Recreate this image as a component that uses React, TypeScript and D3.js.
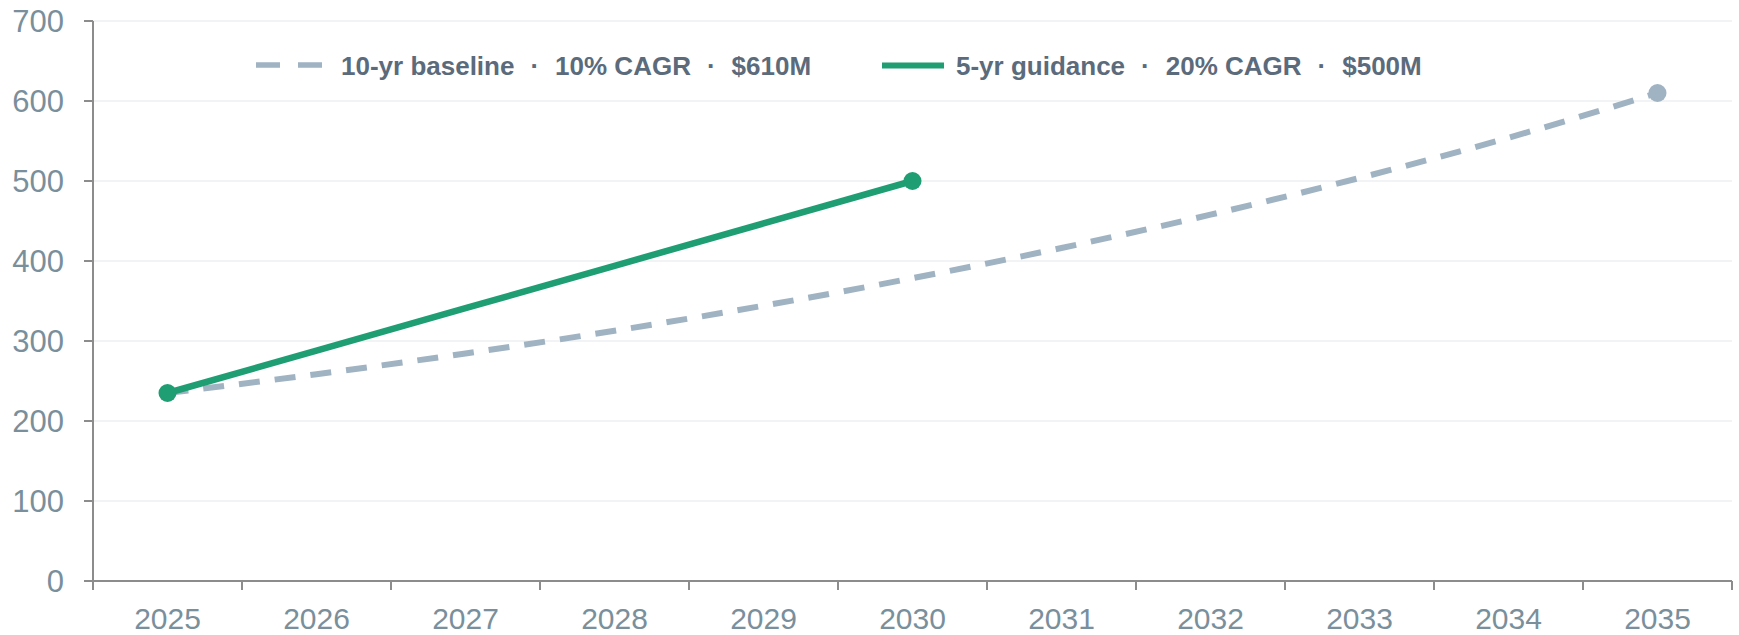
import React from "react";
import * as d3 from "d3";

const years = ["2025", "2026", "2027", "2028", "2029", "2030", "2031", "2032", "2033", "2034", "2035"];
const baselineValues = [235, 258.5, 284.4, 312.8, 344.1, 378.5, 416.3, 457.9, 503.8, 554.1, 610];
const guidanceYears = ["2025", "2026", "2027", "2028", "2029", "2030"];
const guidanceValues = [235, 288, 341, 394, 447, 500];
const yTicks = [0, 100, 200, 300, 400, 500, 600, 700];
const legendBaseline = ["10-yr baseline", "10% CAGR", "$610M"];
const legendGuidance = ["5-yr guidance", "20% CAGR", "$500M"];

const W = 1739;
const H = 635;
const M = { left: 93, right: 7, top: 21, bottom: 54 };

const GRAY = "#a0b3c3";
const GREEN = "#1f9e73";
const AXIS = "#8c8c8c";
const TICK_TEXT = "#7a8f9c";
const LEGEND_TEXT = "#5b6b7c";
const GRID = "#e4e8ec";
const FONT = "'Liberation Sans', Arial, Helvetica, sans-serif";

function LegendText({ x, y, parts }: { x: number; y: number; parts: string[] }) {
  const children: React.ReactNode[] = [];
  parts.forEach((p, i) => {
    if (i > 0) {
      children.push(
        <tspan key={"s" + i} dx={16}>
          ·
        </tspan>
      );
    }
    children.push(
      <tspan key={"p" + i} dx={i > 0 ? 16 : 0}>
        {p}
      </tspan>
    );
  });
  return (
    <text x={x} y={y} fontSize={26} fontWeight="bold" fill={LEGEND_TEXT}>
      {children}
    </text>
  );
}

export default function App() {
  const x = d3.scaleBand<string>().domain(years).range([M.left, W - M.right]).padding(0);
  const y = d3.scaleLinear().domain([0, 700]).range([H - M.bottom, M.top]);
  const cx = (yr: string) => (x(yr) as number) + x.bandwidth() / 2;

  const baseData = years.map((yr, i) => ({ yr, v: baselineValues[i] }));
  const guideData = guidanceYears.map((yr, i) => ({ yr, v: guidanceValues[i] }));

  const baseLine = d3
    .line<{ yr: string; v: number }>()
    .x((d) => cx(d.yr))
    .y((d) => y(d.v))
    .curve(d3.curveMonotoneX);
  const guideLine = d3
    .line<{ yr: string; v: number }>()
    .x((d) => cx(d.yr))
    .y((d) => y(d.v));

  const y0 = y(0);
  const xEnd = W - M.right;
  const bounds = years.map((yr) => x(yr) as number).concat([xEnd]);

  return (
    <div style={{ position: "absolute", left: 0, top: 0 }}>
      <svg width={W} height={H} style={{ display: "block" }} fontFamily={FONT}>
        <rect x={0} y={0} width={W} height={H} fill="#ffffff" />
        {/* grid */}
        {yTicks.map((t) => (
          <line key={"g" + t} x1={M.left} x2={xEnd} y1={y(t)} y2={y(t)} stroke={GRID} strokeWidth={1.2} />
        ))}
        {/* y axis */}
        <line x1={M.left} x2={M.left} y1={y(700)} y2={y0} stroke={AXIS} strokeWidth={2} />
        {yTicks.map((t) => (
          <g key={"y" + t}>
            <line x1={M.left - 9} x2={M.left} y1={y(t)} y2={y(t)} stroke={AXIS} strokeWidth={2} />
            <text x={M.left - 29} y={y(t)} dy="0.36em" textAnchor="end" fontSize={31} fill={TICK_TEXT}>
              {t}
            </text>
          </g>
        ))}
        {/* x axis */}
        <line x1={M.left} x2={xEnd} y1={y0} y2={y0} stroke={AXIS} strokeWidth={2} />
        {bounds.map((b, i) => (
          <line key={"xt" + i} x1={b} x2={b} y1={y0} y2={y0 + 9} stroke={AXIS} strokeWidth={2} />
        ))}
        {years.map((yr) => (
          <text key={"xl" + yr} x={cx(yr)} y={y0 + 47.5} textAnchor="middle" fontSize={30} fill={TICK_TEXT}>
            {yr}
          </text>
        ))}
        {/* baseline */}
        <path d={baseLine(baseData) || ""} fill="none" stroke={GRAY} strokeWidth={6} strokeDasharray="21 15" />
        <circle cx={cx(years[years.length - 1])} cy={y(baselineValues[baselineValues.length - 1])} r={9} fill={GRAY} />
        {/* guidance */}
        <path d={guideLine(guideData) || ""} fill="none" stroke={GREEN} strokeWidth={6.5} />
        <circle cx={cx(guidanceYears[0])} cy={y(guidanceValues[0])} r={9} fill={GREEN} />
        <circle
          cx={cx(guidanceYears[guidanceYears.length - 1])}
          cy={y(guidanceValues[guidanceValues.length - 1])}
          r={9}
          fill={GREEN}
        />
        {/* legend */}
        <line x1={256} x2={322} y1={65} y2={65} stroke={GRAY} strokeWidth={5.5} strokeDasharray="24 18" />
        <LegendText x={341} y={74.5} parts={legendBaseline} />
        <line x1={882} x2={944} y1={65.5} y2={65.5} stroke={GREEN} strokeWidth={6} />
        <LegendText x={956} y={74.5} parts={legendGuidance} />
      </svg>
    </div>
  );
}
